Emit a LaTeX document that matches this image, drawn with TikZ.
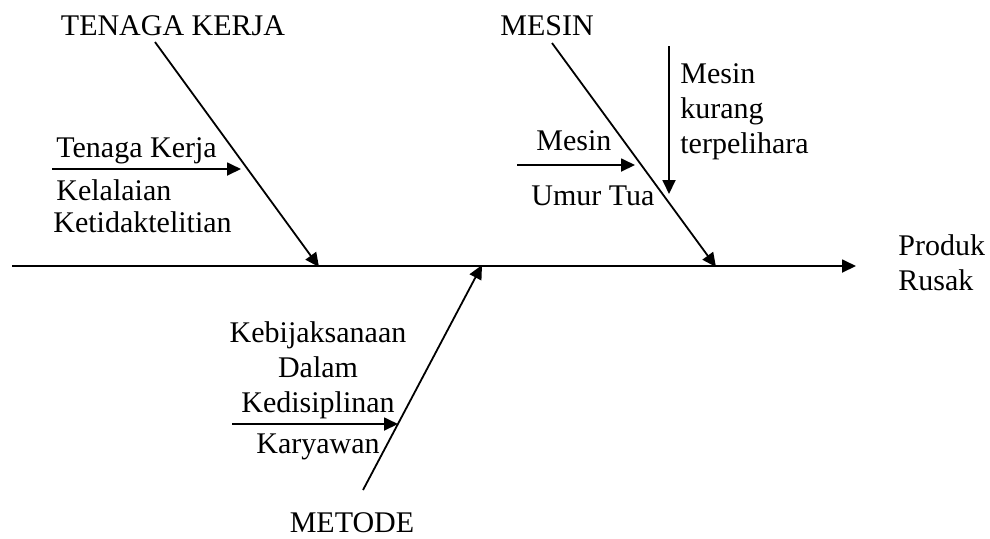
\documentclass[tikz,border=0pt]{standalone}
\usepackage{fontspec}
\setmainfont{Liberation Serif}
\usetikzlibrary{arrows.meta}
\begin{document}
\begin{tikzpicture}[x=0.5pt,y=-0.5pt,
  lbl/.style={inner sep=0pt, font=\fontsize{15}{18}\selectfont},
  bone/.style={line width=0.9pt, -{Triangle[length=7pt,width=6.5pt]}}]
\useasboundingbox (0,0) rectangle (990,538);

% spine and effect
\coordinate (tail) at (12,266);
\coordinate (head) at (856,266);
\draw[bone] (tail) -- (head);
\node[lbl, anchor=base west] (produk) at (898,255) {Produk};
\node[lbl, anchor=base west] (rusak) at (898,290) {Rusak};

% TENAGA KERJA branch
\node[lbl, anchor=base] (tk) at (173,35) {TENAGA KERJA};
\coordinate (tkA) at (155,42);
\coordinate (tkB) at (319,267);
\draw[bone] (tkA) -- (tkB);
\coordinate (tksA) at (52,169);
\coordinate (tksB) at (241,169);
\draw[bone] (tksA) -- (tksB);
\node[lbl, anchor=base west] (tk1) at (56,157) {Tenaga Kerja};
\node[lbl, anchor=base west] (tk2) at (56,200) {Kelalaian};
\node[lbl, anchor=base west] (tk3) at (53,232) {Ketidaktelitian};

% MESIN branch
\node[lbl, anchor=base] (ms) at (547,35) {MESIN};
\coordinate (msA) at (552,43);
\coordinate (msB) at (716,267);
\draw[bone] (msA) -- (msB);
\coordinate (mssA) at (517,165);
\coordinate (mssB) at (635,165);
\draw[bone] (mssA) -- (mssB);
\node[lbl, anchor=base west] (ms1) at (536,150) {Mesin};
\node[lbl, anchor=base west] (ms2) at (531,205) {Umur Tua};
\coordinate (msvA) at (669,46);
\coordinate (msvB) at (669,194);
\draw[bone] (msvA) -- (msvB);
\node[lbl, anchor=base west] (mv1) at (680,83) {Mesin};
\node[lbl, anchor=base west] (mv2) at (680,118) {kurang};
\node[lbl, anchor=base west] (mv3) at (680,153) {terpelihara};

% METODE branch
\node[lbl, anchor=base] (mt) at (352,532) {METODE};
\coordinate (mtA) at (363,490);
\coordinate (mtB) at (482,265);
\draw[bone] (mtA) -- (mtB);
\coordinate (mtsA) at (232,424);
\coordinate (mtsB) at (398,424);
\draw[bone] (mtsA) -- (mtsB);
\node[lbl, anchor=base] (mt1) at (318,342) {Kebijaksanaan};
\node[lbl, anchor=base] (mt2) at (318,377) {Dalam};
\node[lbl, anchor=base] (mt3) at (318,412) {Kedisiplinan};
\node[lbl, anchor=base] (mt4) at (318,453) {Karyawan};
\end{tikzpicture}
\end{document}
